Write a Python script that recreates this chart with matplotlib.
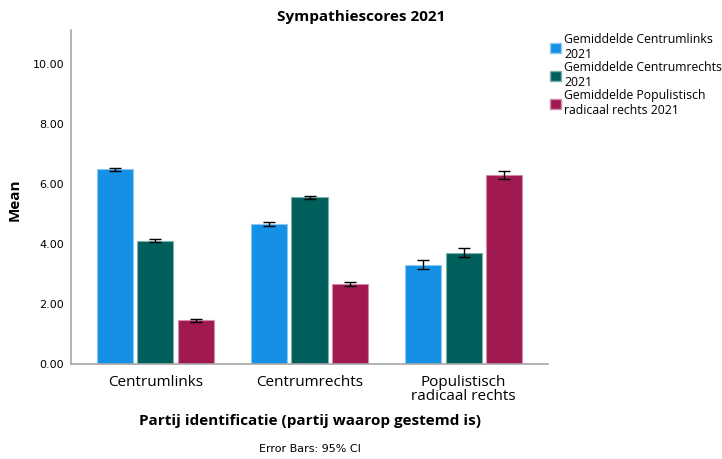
import numpy as np
import matplotlib
matplotlib.use('Agg')
import matplotlib.pyplot as plt
from matplotlib.patches import Patch

categories = ["Centrumlinks", "Centrumrechts", "Populistisch\nradicaal rechts"]
series = [
    "Gemiddelde Centrumlinks\n2021",
    "Gemiddelde Centrumrechts\n2021",
    "Gemiddelde Populistisch\nradicaal rechts 2021",
]
means = [
    [6.50, 4.67, 3.30],   # centrumlinks
    [4.10, 5.56, 3.71],   # centrumrechts
    [1.45, 2.67, 6.31],   # populistisch radicaal rechts
]
ci = [
    [0.05, 0.07, 0.15],
    [0.05, 0.05, 0.15],
    [0.05, 0.07, 0.13],
]
colors = ["#1490e6", "#005e5b", "#a01950"]
edges = ["#8cc8f2", "#7fb0ad", "#d08ca8"]

plt.rcParams['font.family'] = ['Open Sans', 'DejaVu Sans']

fig = plt.figure(figsize=(7.22, 4.59), dpi=100)
ax = fig.add_axes([71 / 722, 1 - 363.5 / 459, 477 / 722, 333.5 / 459])

x = np.arange(len(categories))
width = 0.234
step = 0.264
for i in range(3):
    ax.bar(x + (i - 1) * step, means[i], width, color=colors[i],
           edgecolor=edges[i], linewidth=0.8, zorder=2)
    ax.errorbar(x + (i - 1) * step, means[i], yerr=ci[i], fmt='none',
                ecolor='black', elinewidth=1.0, capsize=4, capthick=1.0, zorder=3)

ax.set_xlim(-0.547, 2.547)
ax.set_ylim(0, 11.15)
ax.set_yticks([0, 2, 4, 6, 8, 10])
ax.set_yticklabels([f"{v:.2f}" for v in [0, 2, 4, 6, 8, 10]],
                   fontsize=8, family='DejaVu Sans')
ax.set_xticks(x)
ax.set_xticklabels(categories, fontsize=11, linespacing=0.9)
ax.tick_params(axis='both', length=0)
ax.tick_params(axis='y', pad=5)
ax.tick_params(axis='x', pad=8)
for s in ['top', 'right']:
    ax.spines[s].set_visible(False)
for s in ['left', 'bottom']:
    ax.spines[s].set_color('#a6a6a6')
    ax.spines[s].set_linewidth(1.2)

fig.text(15 / 722, 1 - 200 / 459, "Mean", rotation=90,
         ha='center', va='center', fontsize=11, fontweight='bold')
fig.text(310 / 722, 1 - 421 / 459, "Partij identificatie (partij waarop gestemd is)",
         ha='center', va='center', fontsize=11, fontweight='bold')
fig.text(361 / 722, 1 - 17 / 459, "Sympathiescores 2021",
         ha='center', va='center', fontsize=11, fontweight='bold')
fig.text(310 / 722, 1 - 449 / 459, "Error Bars: 95% CI",
         ha='center', va='center', fontsize=8, family='DejaVu Sans')

handles = [Patch(facecolor=c, edgecolor=e) for c, e in zip(colors, edges)]
fig.legend(handles, series, loc='upper left', bbox_to_anchor=(545 / 722, 1 - 28 / 459),
           frameon=False, fontsize=8.8, handlelength=0.9, handleheight=0.9,
           handletextpad=0.25, labelspacing=0.0, borderaxespad=0)

fig.savefig("out.png", dpi=100)
